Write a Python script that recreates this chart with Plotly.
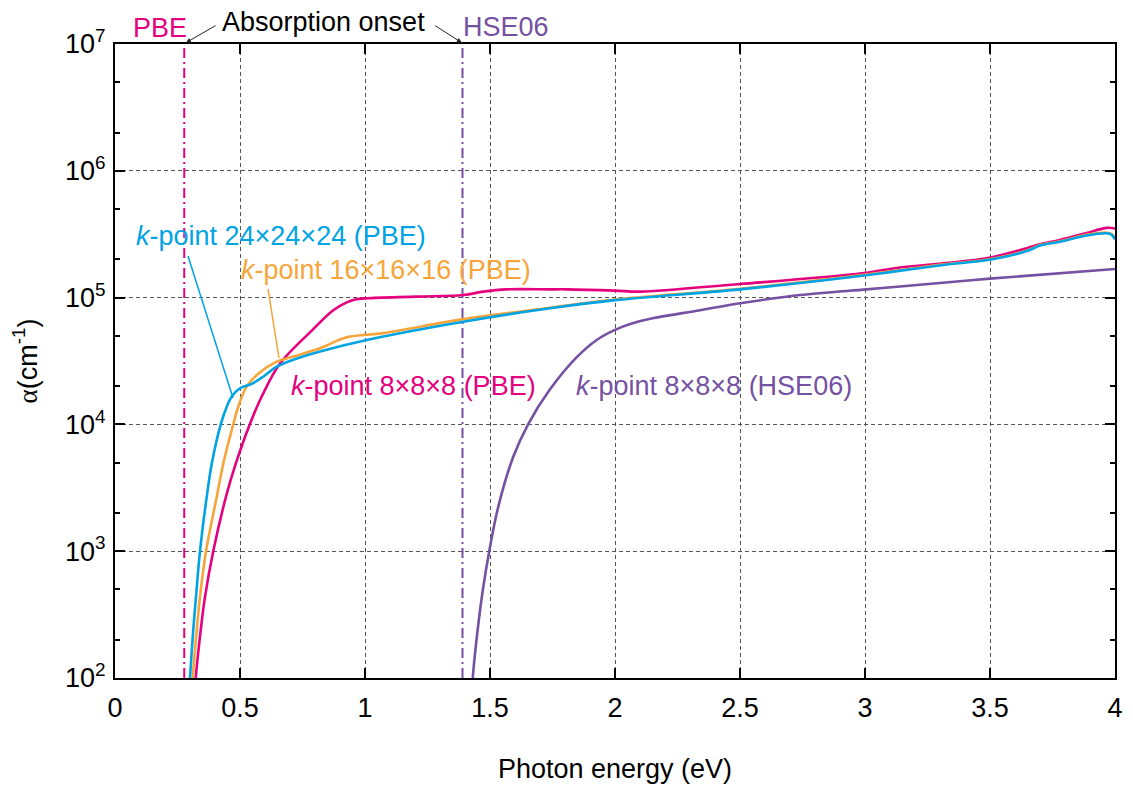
import plotly.graph_objects as go

# ---------------- data ----------------
# photon energy (eV) and log10(alpha / cm^-1)
# k-point 24x24x24 (PBE)
k24_x = [0.296, 0.300, 0.313, 0.324, 0.340, 0.367, 0.387, 0.423, 0.447, 0.467, 0.500,
         0.547, 0.593, 0.647, 0.713, 0.820, 1.007, 1.393, 1.740, 2.000, 2.500, 2.980,
         3.113, 3.313, 3.503, 3.647, 3.700, 3.780, 3.887, 3.967, 3.987, 4.000]
k24_logy = [1.85, 2.00, 2.379, 2.64, 3.00, 3.43, 3.69, 4.00, 4.14, 4.22, 4.285,
            4.32, 4.376, 4.455, 4.51, 4.575, 4.666, 4.81, 4.916, 4.98, 5.065, 5.17,
            5.205, 5.257, 5.30, 5.367, 5.41, 5.44, 5.49, 5.507, 5.495, 5.46]

# k-point 16x16x16 (PBE)
k16_x = [0.307, 0.311, 0.327, 0.340, 0.364, 0.407, 0.433, 0.473, 0.493, 0.527, 0.573,
         0.647, 0.713, 0.820, 0.927, 1.073, 1.393, 1.740, 2.000, 2.500, 2.980, 3.113,
         3.313, 3.503, 3.647, 3.700, 3.780, 3.887, 3.967, 3.987, 4.000]
k16_logy = [1.85, 2.00, 2.379, 2.64, 3.00, 3.43, 3.69, 4.00, 4.14, 4.30, 4.40,
            4.495, 4.535, 4.60, 4.687, 4.72, 4.83, 4.92, 4.985, 5.07, 5.175, 5.21,
            5.262, 5.305, 5.372, 5.415, 5.445, 5.495, 5.512, 5.50, 5.47]

# k-point 8x8x8 (PBE)
k8_x = [0.318, 0.323, 0.343, 0.360, 0.393, 0.444, 0.483, 0.539, 0.587, 0.660, 0.787,
        0.873, 0.927, 0.960, 1.007, 1.207, 1.393, 1.473, 1.567, 1.740, 1.807, 2.000,
        2.100, 2.500, 2.980, 3.113, 3.313, 3.503, 3.647, 3.700, 3.780, 3.887, 3.967, 4.000]
k8_logy = [1.85, 2.00, 2.379, 2.64, 3.00, 3.43, 3.69, 4.00, 4.22, 4.48, 4.74,
           4.90, 4.962, 4.985, 4.995, 5.008, 5.02, 5.047, 5.065, 5.065, 5.065, 5.055,
           5.047, 5.107, 5.19, 5.23, 5.27, 5.316, 5.39, 5.42, 5.455, 5.51, 5.55, 5.545]

# k-point 8x8x8 (HSE06)
hse_x = [1.427, 1.431, 1.453, 1.471, 1.497, 1.533, 1.593, 1.653, 1.738, 1.849, 1.927,
         2.000, 2.070, 2.150, 2.340, 2.500, 2.740, 3.007, 3.140, 3.500, 4.000]
hse_logy = [1.85, 2.00, 2.42, 2.69, 3.00, 3.35, 3.745, 4.003, 4.271, 4.534, 4.666,
            4.745, 4.797, 4.837, 4.90, 4.955, 5.02, 5.065, 5.088, 5.15, 5.225]

# absorption onsets (eV)
onset_pbe = 0.277
onset_hse = 1.390

x_ticks = [0, 0.5, 1, 1.5, 2, 2.5, 3, 3.5, 4]
x_ticktext = ["0", "0.5", "1", "1.5", "2", "2.5", "3", "3.5", "4"]
y_exps = [2, 3, 4, 5, 6, 7]
y_ticks = [10.0 ** e for e in y_exps]
y_ticktext = ["10<sup>%d</sup>" % e for e in y_exps]
y_minor = [m * 10.0 ** e for e in y_exps[:-1] for m in (2, 5)]

# leader lines for labels (x in eV, log10 alpha)
lead24_x = [0.292, 0.472]
lead24_logy = [5.328, 4.208]
lead16_x = [0.612, 0.656]
lead16_logy = [5.068, 4.524]


def unlog(v):
    return [10.0 ** a for a in v]


# ---------------- styling ----------------
C_CYAN = "#00A3E3"
C_ORANGE = "#F6A53B"
C_MAG = "#E5007E"
C_PURP = "#7551A2"
FONT = "Liberation Sans, Arial, sans-serif"
FS = 27

fig = go.Figure()

# onset lines
for xo, col in ((onset_pbe, C_MAG), (onset_hse, C_PURP)):
    fig.add_trace(go.Scatter(x=[xo, xo], y=[y_ticks[0], y_ticks[-1]], mode="lines",
                             line=dict(color=col, width=2, dash="10px,4px,2px,4px"),
                             showlegend=False, hoverinfo="skip"))

# leader lines
fig.add_trace(go.Scatter(x=lead24_x, y=unlog(lead24_logy), mode="lines",
                         line=dict(color=C_CYAN, width=1.5), showlegend=False))
fig.add_trace(go.Scatter(x=lead16_x, y=unlog(lead16_logy), mode="lines",
                         line=dict(color=C_ORANGE, width=1.5), showlegend=False))

# curves
for xs, ys, col in ((hse_x, hse_logy, C_PURP), (k8_x, k8_logy, C_MAG),
                    (k16_x, k16_logy, C_ORANGE), (k24_x, k24_logy, C_CYAN)):
    fig.add_trace(go.Scatter(x=xs, y=unlog(ys), mode="lines",
                             line=dict(color=col, width=2.6, shape="spline", smoothing=1.0),
                             showlegend=False))

ann = []


def txt(x, y, s, col, xanchor="center", yref="y"):
    ann.append(dict(x=x, y=y, xref="x", yref=yref, text=s, showarrow=False,
                    xanchor=xanchor, yanchor="middle", borderpad=0,
                    font=dict(family=FONT, size=FS, color=col)))


# labels above the frame (paper y)
txt(0.18, 1.026, "PBE", C_MAG, yref="paper")
txt(0.833, 1.034, "Absorption onset", "black", yref="paper")
txt(1.562, 1.027, "HSE06", C_PURP, yref="paper")
# curve labels (log10 alpha)
txt(0.078, 5.486, "<i>k</i>-point 24×24×24 (PBE)", C_CYAN, "left")
txt(0.498, 5.218, "<i>k</i>-point 16×16×16 (PBE)", C_ORANGE, "left")
txt(0.698, 4.303, "<i>k</i>-point 8×8×8 (PBE)", C_MAG, "left")
txt(1.838, 4.303, "<i>k</i>-point 8×8×8 (HSE06)", C_PURP, "left")

# arrows pointing at the onset lines
ann.append(dict(x=onset_pbe + 0.007, y=1.002, xref="x", yref="paper", text="",
                showarrow=True, ax=31, ay=-18, arrowhead=2, arrowsize=1,
                arrowwidth=1, arrowcolor="#222"))
ann.append(dict(x=onset_hse - 0.003, y=1.002, xref="x", yref="paper", text="",
                showarrow=True, ax=-28, ay=-18, arrowhead=2, arrowsize=1,
                arrowwidth=1, arrowcolor="#222"))

# page body has an 8px margin: size the figure so the plot area lands
# at the same page pixels as the reference (115..1115, 44..678)
fig.update_layout(
    width=1117, height=776, autosize=False,
    margin=dict(l=107, r=10, t=36, b=106),
    paper_bgcolor="white", plot_bgcolor="white",
    font=dict(family=FONT, size=FS, color="black"),
    annotations=ann,
    showlegend=False,
)

fig.update_xaxes(
    range=[0, 4], tickmode="array", tickvals=x_ticks, ticktext=x_ticktext,
    ticks="inside", ticklen=10, tickwidth=1.5, tickcolor="black",
    showline=True, linewidth=2, linecolor="black", mirror="ticks",
    showgrid=True, gridcolor="#555", gridwidth=1, griddash="4px,3px",
    zeroline=False, tickfont=dict(size=FS), automargin=False,
    ticklabelstandoff=5,
    title=dict(text="Photon energy (eV)", font=dict(size=FS), standoff=48),
)
fig.update_yaxes(
    type="log", range=[2, 7], tickmode="array", tickvals=y_ticks, ticktext=y_ticktext,
    ticks="inside", ticklen=10, tickwidth=1.5, tickcolor="black",
    showline=True, linewidth=2, linecolor="black", mirror="ticks",
    showgrid=True, gridcolor="#555", gridwidth=1, griddash="4px,3px",
    zeroline=False, tickfont=dict(size=FS), automargin=False,
    ticklabelstandoff=2,
    minor=dict(tickmode="array", tickvals=y_minor, ticks="inside", ticklen=5,
               tickwidth=1.5, tickcolor="black", showgrid=False),
    title=dict(text="<span style='font-family:Liberation Serif'>α</span>(cm<sup>-1</sup>)",
               font=dict(size=FS), standoff=20),
)

fig.write_html("out.html")
